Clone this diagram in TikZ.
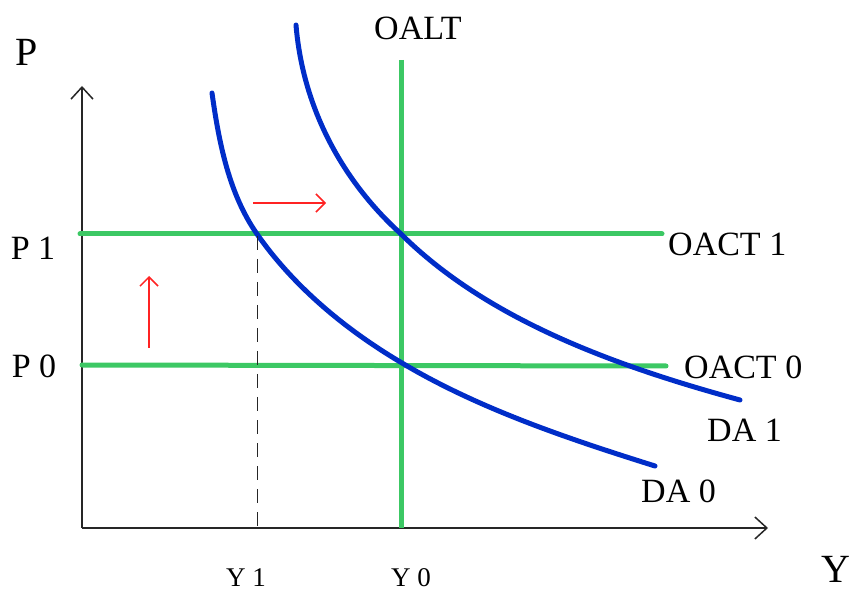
\documentclass[tikz,border=0pt]{standalone}
\usepackage{fontspec}
\setmainfont{Liberation Serif}
\usetikzlibrary{arrows.meta}
\definecolor{verde}{RGB}{60,200,100}
\definecolor{azul}{RGB}{0,45,200}
\definecolor{rojo}{RGB}{255,35,35}
\tikzset{
  oferta/.style={draw=verde, line width=5pt, line cap=round},
  demanda/.style={draw=azul, line width=5pt, line cap=round},
  flecha/.style={draw=rojo, line width=1.5pt, -{Straight Barb[length=9pt,width=18pt]}},
  eje/.style={draw=black!85, line width=1.5pt},
  etq/.style={inner sep=0pt, font=\fontsize{34}{36}\selectfont},
  etqy/.style={inner sep=0pt, font=\fontsize{27}{30}\selectfont},
}
\begin{document}
\begin{tikzpicture}[x=1pt, y=-1pt, >={Straight Barb[length=12pt,width=22pt]}]
  \useasboundingbox (0,0) rectangle (854,593);
  % ejes
  \coordinate (O) at (82,528);
  \coordinate (ytop) at (82,86);
  \coordinate (xend) at (768,528);
  \draw[eje,->] (O) -- (ytop);
  \draw[eje,->] (O) -- (xend);
  \node[etq, font=\fontsize{40}{42}\selectfont] (P) at (27,52) {P};
  \node[etq, font=\fontsize{40}{42}\selectfont] (Y) at (836,569) {Y};
  % oferta
  \node[etq, anchor=west] (oact1) at (668,244) {OACT 1};
  \node[etq, anchor=west] (oact0) at (684,367) {OACT 0};
  \node[etq, anchor=west] (oalt) at (374,28) {OALT};
  \node[etq] (p1) at (33,248) {P 1};
  \node[etq] (p0) at (34,366) {P 0};
  \coordinate (a1) at (80,234);
  \coordinate (b1) at (662,234);
  \coordinate (a0) at (82,365);
  \coordinate (b0) at (666,366);
  \coordinate (lt) at (401,60);
  \coordinate (lb) at (401,528);
  \draw[oferta] (a1) -- (b1);
  \draw[oferta] (a0) -- (b0);
  \draw[oferta, line cap=butt] (lt) -- (lb);
  % demanda
  \draw[demanda] (212,93) .. controls (219,143) and (229,194) .. (257,234)
    .. controls (294,287) and (346,330) .. (402,363)
    .. controls (479,409) and (569,439) .. (655,466);
  \draw[demanda] (296,25) .. controls (303,110) and (344,182) .. (400,233)
    .. controls (488,321) and (619,367) .. (740,400);
  \node[etq, anchor=west] (da1) at (707,430) {DA 1};
  \node[etq, anchor=west] (da0) at (641,491) {DA 0};
  % Y1, Y0
  \coordinate (e1) at (257,236);
  \coordinate (f1) at (257,528);
  \draw[black!85, line width=1pt, dash pattern=on 14pt off 9pt] (e1) -- (f1);
  \node[etqy] (y1) at (246,578) {Y 1};
  \node[etqy] (y0) at (411,578) {Y 0};
  % desplazamientos
  \coordinate (h0) at (253,203);
  \coordinate (h1) at (326,203);
  \coordinate (v0) at (149,348);
  \coordinate (v1) at (149,276);
  \draw[flecha] (h0) -- (h1);
  \draw[flecha] (v0) -- (v1);
\end{tikzpicture}
\end{document}
